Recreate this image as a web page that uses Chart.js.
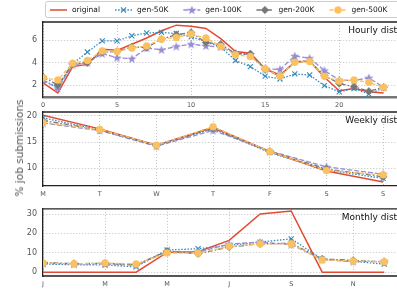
<!DOCTYPE html>
<html><head><meta charset="utf-8">
<script src="https://cdn.jsdelivr.net/npm/chart.js@4.4.0/dist/chart.umd.min.js"></script>
<style>
html,body{margin:0;padding:0;background:#fff;overflow:hidden;width:397px;height:291px;}
#wrap{position:relative;width:397px;height:291px;overflow:hidden;background:#fff;}
canvas{position:absolute;left:0;}
#ylab{position:absolute;left:19px;top:148px;transform:translate(-50%,-50%) rotate(-90deg);font:10.5px "DejaVu Sans";color:#555;white-space:nowrap;}
</style></head><body>
<div id="wrap">
<canvas id="c1" width="445" height="110" style="top:0px;width:445px;height:110px"></canvas>
<canvas id="c2" width="445" height="98" style="top:100px;width:445px;height:98px"></canvas>
<canvas id="c3" width="445" height="93" style="top:198px;width:445px;height:93px"></canvas>
<div id="ylab">% job submissions</div>
</div>
<script>
// ---------------- data ----------------
const seriesNames = ['original', 'gen-50K', 'gen-100K', 'gen-200K', 'gen-500K'];

const hours = [0,1,2,3,4,5,6,7,8,9,10,11,12,13,14,15,16,17,18,19,20,21,22,23];
const hourlyOriginal = [2.2,1.3,3.65,3.85,5.2,5.1,5.65,6.2,6.85,7.35,7.25,7.05,6.15,5.0,4.85,3.45,2.9,4.05,4.15,2.7,1.5,1.7,1.4,1.3];
const hourly50K      = [2.45,1.8,3.9,4.95,5.95,5.95,6.4,6.65,6.7,6.6,6.3,5.9,5.4,4.2,3.65,2.8,2.55,3.0,2.9,1.95,1.4,1.7,1.2,1.75];
const hourly100K     = [2.45,1.7,3.8,4.0,4.8,4.45,4.35,5.3,5.15,5.45,5.65,5.5,5.4,4.85,4.7,3.45,3.4,4.6,4.4,3.3,2.45,2.4,2.65,1.8];
const hourly200K     = [2.75,2.0,3.9,4.0,4.95,5.0,5.4,5.35,6.1,6.5,6.7,5.8,5.65,4.8,4.8,3.4,2.8,4.1,4.15,2.85,2.15,1.85,1.45,1.8];
const hourly500K     = [2.65,2.45,3.95,4.2,5.05,5.0,5.3,5.5,6.1,6.25,6.55,6.2,5.45,4.7,4.55,3.45,2.8,4.05,4.1,2.8,2.35,2.45,2.25,1.8];
const hourTicks = [0,5,10,15,20];

const days = [0,1,2,3,4,5,6];
const dayLabels = ['M','T','W','T','F','S','S'];
const weeklyOriginal = [20.1,17.5,14.4,17.8,13.2,9.5,7.4];
const weekly50K      = [19.6,17.3,14.4,17.5,13.0,9.7,8.1];
const weekly100K     = [18.6,17.2,14.2,17.2,13.3,10.3,8.9];
const weekly200K     = [19.1,17.3,14.3,17.6,13.2,9.9,8.4];
const weekly500K     = [18.7,17.4,14.4,17.9,13.2,9.6,8.8];

const months = [0,1,2,3,4,5,6,7,8,9,10,11];
const monthLabels = ['J','F','M','A','M','J','J','A','S','O','N','D'];
const monthlyOriginal = [0,0,0,0,10.2,10.5,16.4,30.0,31.6,0,0,0];
const monthly50K      = [4.2,3.8,3.7,2.7,11.4,12.1,13.8,15.5,17.2,6.7,5.6,4.1];
const monthly100K     = [4.6,4.2,4.3,3.5,10.6,10.3,14.5,15.5,14.2,6.5,5.4,5.6];
const monthly200K     = [4.9,4.4,4.5,3.9,10.8,9.5,13.0,14.6,14.9,6.8,6.1,5.2];
const monthly500K     = [4.7,4.3,4.7,4.2,9.9,9.8,13.3,14.6,14.6,6.3,5.8,5.3];

// ---------------- styles ----------------
function makeStar(color) {
  const c = document.createElement('canvas');
  c.width = 10; c.height = 10;
  const g = c.getContext('2d');
  g.fillStyle = color;
  g.beginPath();
  for (let i = 0; i < 10; i++) {
    const r = i % 2 === 0 ? 4.8 : 2.0;
    const a = -Math.PI / 2 + i * Math.PI / 5;
    const px = 5 + r * Math.cos(a), py = 5.3 + r * Math.sin(a);
    if (i === 0) g.moveTo(px, py); else g.lineTo(px, py);
  }
  g.closePath(); g.fill();
  return c;
}
const starImg = makeStar('#988ED5');

const styles = [
  {borderColor:'#E24A33', backgroundColor:'#E24A33', borderWidth:1.5, borderDash:[], pointRadius:0, pointStyle:'circle', order:5},
  {borderColor:'#348ABD', backgroundColor:'#348ABD', borderWidth:1.3, borderDash:[1.5,1.6], pointRadius:3.6, pointStyle:'crossRot', pointBorderWidth:1.1, pointBorderColor:'#348ABD', order:4},
  {borderColor:'#988ED5', backgroundColor:'#988ED5', borderWidth:1.3, borderDash:[5,2], pointRadius:4, pointStyle:starImg, pointBorderWidth:0, order:3},
  {borderColor:'#777777', backgroundColor:'#777777', borderWidth:1.3, borderDash:[5,2,1.5,2], pointRadius:3.8, pointStyle:'rectRot', pointBorderWidth:0.5, pointBorderColor:'#777777', pointBackgroundColor:'#777777', order:2},
  {borderColor:'#FBC15E', backgroundColor:'#FBC15E', borderWidth:1.3, borderDash:[4,2], pointRadius:3.5, pointStyle:'circle', pointBorderWidth:0.5, pointBorderColor:'#FBC15E', pointBackgroundColor:'#FBC15E', order:1}
];

function makeDatasets(xs, list) {
  return list.map((vals, i) => Object.assign({
    label: seriesNames[i],
    data: vals.map((v, j) => ({x: xs[j], y: v})),
    tension: 0,
    pointHoverRadius: 0
  }, styles[i]));
}

// ---------------- plugins ----------------
const framePlugin = {
  id: 'frame',
  afterDraw(chart, args, opts) {
    const {ctx, chartArea: a} = chart;
    ctx.save();
    ctx.strokeStyle = '#222'; ctx.lineWidth = 1.3;
    ctx.beginPath(); ctx.moveTo(a.left, a.top); ctx.lineTo(a.right + 5, a.top); ctx.stroke();
    ctx.fillStyle = '#111';
    ctx.font = '9px "DejaVu Sans"';
    ctx.textAlign = 'right'; ctx.textBaseline = 'top';
    ctx.fillText(opts.title, a.right - 5, a.top + 4);
    ctx.restore();
  }
};

const legendPlugin = {
  id: 'customLegend',
  afterDraw(chart, args, opts) {
    if (!opts.show) return;
    const ctx = chart.ctx;
    ctx.save();
    ctx.fillStyle = 'rgba(255,255,255,0.9)';
    ctx.strokeStyle = '#cccccc'; ctx.lineWidth = 1;
    const bx = 45.5, by = 1.5, bw = 420, bh = 16, r = 2;
    ctx.beginPath();
    ctx.moveTo(bx + r, by); ctx.lineTo(bx + bw - r, by); ctx.arcTo(bx + bw, by, bx + bw, by + r, r);
    ctx.lineTo(bx + bw, by + bh - r); ctx.arcTo(bx + bw, by + bh, bx + bw - r, by + bh, r);
    ctx.lineTo(bx + r, by + bh); ctx.arcTo(bx, by + bh, bx, by + bh - r, r);
    ctx.lineTo(bx, by + r); ctx.arcTo(bx, by, bx + r, by, r);
    ctx.closePath(); ctx.fill(); ctx.stroke();
    ctx.font = '7.5px "DejaVu Sans"';
    ctx.textBaseline = 'middle'; ctx.textAlign = 'left';
    let x = 50; const y = 10;
    chart.data.datasets.forEach(ds => {
      ctx.save();
      ctx.strokeStyle = ds.borderColor; ctx.lineWidth = ds.borderWidth;
      ctx.setLineDash(ds.borderDash || []);
      ctx.beginPath(); ctx.moveTo(x, y); ctx.lineTo(x + 17, y); ctx.stroke();
      ctx.setLineDash([]);
      if (ds.pointRadius > 0) {
        ctx.fillStyle = ds.pointBackgroundColor || ds.backgroundColor;
        ctx.strokeStyle = ds.pointBorderColor || ds.borderColor;
        ctx.lineWidth = ds.pointBorderWidth || 0;
        Chart.helpers.drawPoint(ctx, {pointStyle: ds.pointStyle, radius: ds.pointRadius, borderWidth: ds.pointBorderWidth || 0, rotation: 0}, x + 8.5, y);
      }
      ctx.restore();
      ctx.fillStyle = '#111';
      ctx.fillText(ds.label, x + 22, y + 0.5);
      x += 22 + ctx.measureText(ds.label).width + 15;
    });
    ctx.restore();
  }
};

function makeChart(id, cfg) {
  return new Chart(document.getElementById(id), {
    type: 'line',
    data: {datasets: makeDatasets(cfg.xs, cfg.series)},
    options: {
      responsive: false, animation: false, devicePixelRatio: 1,
      events: [],
      layout: {padding: {top: cfg.padTop, right: 8, left: 0, bottom: 0}},
      plugins: {legend: {display: false}, tooltip: {enabled: false},
        frame: {title: cfg.title}, customLegend: {show: !!cfg.legend}},
      scales: {
        x: {
          type: 'linear', min: 0, max: cfg.xMax,
          afterFit: s => { s.height = cfg.xAxisH; },
          afterBuildTicks: s => { s.ticks = cfg.xTicks.map(v => ({value: v})); },
          ticks: {autoSkip: false, maxRotation: 0, padding: 4, color: '#555', font: {family: 'DejaVu Sans', size: 6.5},
            callback: cfg.xLabel},
          grid: {color: '#b0b0b0', lineWidth: 0.8, drawTicks: false},
          border: {display: true, color: cfg.bottomColor, width: cfg.bottomWidth, dash: [1, 2]}
        },
        y: {
          min: cfg.yMin, max: cfg.yMax,
          afterFit: s => { s.width = 43; },
          ticks: {stepSize: cfg.yStep, includeBounds: false, padding: 6, color: '#555', font: {family: 'DejaVu Sans', size: 8}},
          grid: {color: '#b0b0b0', lineWidth: 0.8, drawTicks: false},
          border: {display: true, color: '#222', width: 1.3, dash: [1, 2]}
        }
      }
    },
    plugins: [framePlugin, legendPlugin]
  });
}

makeChart('c1', {
  xs: hours, series: [hourlyOriginal, hourly50K, hourly100K, hourly200K, hourly500K],
  xMax: 26.6, xTicks: hourTicks, xLabel: v => String(v),
  yMin: 0.94, yMax: 7.63, yStep: 2, padTop: 22, xAxisH: 13,
  bottomColor: '#777', bottomWidth: 2.5, title: 'Hourly distribution', legend: true
});
makeChart('c2', {
  xs: days, series: [weeklyOriginal, weekly50K, weekly100K, weekly200K, weekly500K],
  xMax: 6.95, xTicks: days, xLabel: v => dayLabels[v] ?? '',
  yMin: 6.66, yMax: 20.7, yStep: 5, padTop: 12, xAxisH: 12,
  bottomColor: '#222', bottomWidth: 1.3, title: 'Weekly distribution'
});
makeChart('c3', {
  xs: months, series: [monthlyOriginal, monthly50K, monthly100K, monthly200K, monthly500K],
  xMax: 12.7, xTicks: [0,2,4,6,8,10], xLabel: v => monthLabels[v] ?? '',
  yMin: -2.0, yMax: 32.7, yStep: 10, padTop: 4, xAxisH: 15,
  bottomColor: '#555', bottomWidth: 2, title: 'Monthly distribution'
});
</script>
</body></html>
